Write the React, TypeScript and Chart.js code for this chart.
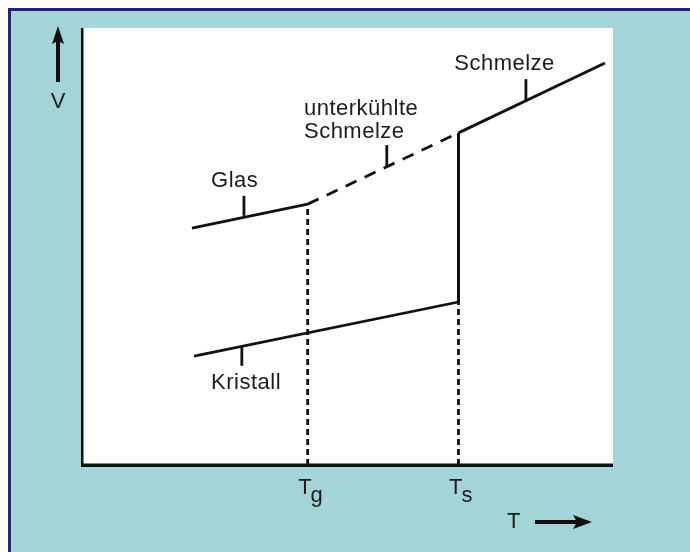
import { useEffect, useRef } from "react";
import { Chart, registerables } from "chart.js";

Chart.register(...registerables);

// ---- data (x: temperature, y: volume, arbitrary units 0..100) ----
const T_GLASS = 42.5;
const T_MELT = 70.9;

const glasLine = [
  { x: 20.7, y: 54.2 },
  { x: T_GLASS, y: 59.7 },
];
const supercooledLine = [
  { x: T_GLASS, y: 59.7 },
  { x: T_MELT, y: 76.0 },
];
const meltLine = [
  { x: T_MELT, y: 76.0 },
  { x: 98.5, y: 92.0 },
];
const crystalLine = [
  { x: 21.1, y: 24.9 },
  { x: T_MELT, y: 37.3 },
];
const meltJump = [
  { x: T_MELT, y: 37.3 },
  { x: T_MELT, y: 76.0 },
];
const tgDrop = [
  { x: T_GLASS, y: 0 },
  { x: T_GLASS, y: 59.7 },
];
const tsDrop = [
  { x: T_MELT, y: 0 },
  { x: T_MELT, y: 37.3 },
];
const glasTick = [
  { x: 30.5, y: 57.0 },
  { x: 30.5, y: 61.6 },
];
const supercooledTick = [
  { x: 57.4, y: 68.3 },
  { x: 57.4, y: 73.2 },
];
const meltTick = [
  { x: 83.6, y: 83.3 },
  { x: 83.6, y: 88.3 },
];
const crystalTick = [
  { x: 30.1, y: 22.7 },
  { x: 30.1, y: 27.2 },
];

const curveLabels = [
  { text: "Glas", x: 24.3, y: 63.6 },
  { text: "unterkühlte", x: 41.8, y: 80.1 },
  { text: "Schmelze", x: 41.8, y: 74.8 },
  { text: "Schmelze", x: 70.1, y: 90.4 },
  { text: "Kristall", x: 24.3, y: 17.4 },
];

const axisMarks = [
  { main: "T", sub: "g", x: T_GLASS },
  { main: "T", sub: "s", x: T_MELT },
];

const yAxisTitle = "V";
const xAxisTitle = "T";

const FONT = '22px "Liberation Sans", Arial, sans-serif';
const INK = "#111111";
const TEXT = "#1c1c1c";

const diagramPlugin = {
  id: "diagram",
  beforeDatasetsDraw(chart: any) {
    const { ctx, chartArea } = chart;
    ctx.save();
    ctx.fillStyle = "#ffffff";
    ctx.fillRect(
      chartArea.left,
      chartArea.top,
      chartArea.right - chartArea.left,
      chartArea.bottom - chartArea.top
    );
    ctx.restore();
  },
  afterDatasetsDraw(chart: any) {
    const { ctx, chartArea, scales } = chart;
    const xs = scales.x;
    const ys = scales.y;
    ctx.save();

    // axes
    ctx.fillStyle = INK;
    ctx.fillRect(chartArea.left - 1, chartArea.top, 2.5, chartArea.bottom - chartArea.top);
    ctx.fillRect(chartArea.left - 1, chartArea.bottom - 1.5, chartArea.right - chartArea.left + 1, 3.5);

    // text
    ctx.font = FONT;
    (ctx as any).letterSpacing = "0.5px";
    ctx.fillStyle = TEXT;
    ctx.textBaseline = "alphabetic";
    ctx.textAlign = "left";
    for (const l of curveLabels) {
      ctx.fillText(l.text, xs.getPixelForValue(l.x), ys.getPixelForValue(l.y));
    }

    // tick labels below the axis
    (ctx as any).letterSpacing = "0px";
    for (const m of axisMarks) {
      const px = xs.getPixelForValue(m.x);
      const left = px - 9.5;
      ctx.fillText(m.main, left, chartArea.bottom + 29);
      const w = ctx.measureText(m.main).width;
      ctx.fillText(m.sub, left + w - 1, chartArea.bottom + 37);
    }

    // y axis arrow + title
    const ax = chartArea.left - 24;
    ctx.fillStyle = INK;
    ctx.fillRect(ax - 2, chartArea.top + 12, 4, 42);
    ctx.beginPath();
    ctx.moveTo(ax, chartArea.top - 2);
    ctx.lineTo(ax - 6, chartArea.top + 16);
    ctx.lineTo(ax, chartArea.top + 13);
    ctx.lineTo(ax + 6, chartArea.top + 16);
    ctx.closePath();
    ctx.fill();
    ctx.fillStyle = TEXT;
    ctx.textAlign = "center";
    ctx.fillText(yAxisTitle, ax, chartArea.top + 80);

    // x axis title + arrow
    ctx.textAlign = "left";
    ctx.fillText(xAxisTitle, chartArea.right - 106, chartArea.bottom + 63);
    const ay = chartArea.bottom + 57;
    ctx.fillStyle = INK;
    ctx.fillRect(chartArea.right - 78, ay - 2, 44, 4);
    ctx.beginPath();
    ctx.moveTo(chartArea.right - 21, ay);
    ctx.lineTo(chartArea.right - 40, ay - 7);
    ctx.lineTo(chartArea.right - 36, ay);
    ctx.lineTo(chartArea.right - 40, ay + 7);
    ctx.closePath();
    ctx.fill();

    ctx.restore();
  },
};

function seg(data: { x: number; y: number }[], width: number, dash: number[] = []) {
  return {
    data,
    showLine: true,
    borderColor: INK,
    borderWidth: width,
    borderDash: dash,
    borderCapStyle: "butt" as const,
    pointRadius: 0,
    pointHoverRadius: 0,
    fill: false,
    clip: false as any,
  };
}

export default function App() {
  const canvasRef = useRef<HTMLCanvasElement | null>(null);

  useEffect(() => {
    if (!canvasRef.current) return;
    const chart = new Chart(canvasRef.current, {
      type: "scatter",
      data: {
        datasets: [
          seg(tgDrop, 2.8, [6, 4]),
          seg(tsDrop, 2.8, [6, 4]),
          seg(glasLine, 2.8),
          seg(supercooledLine, 2.8, [12, 9]),
          seg(meltLine, 2.8),
          seg(crystalLine, 2.8),
          seg(meltJump, 3),
          seg(glasTick, 2.8),
          seg(supercooledTick, 2.8),
          seg(meltTick, 2.8),
          seg(crystalTick, 2.8),
        ],
      },
      options: {
        animation: false,
        responsive: true,
        maintainAspectRatio: false,
        layout: { padding: { left: 71, top: 17, right: 77, bottom: 87 } },
        plugins: {
          legend: { display: false },
          tooltip: { enabled: false },
        },
        events: [],
        scales: {
          x: { type: "linear", min: 0, max: 100, display: false },
          y: { type: "linear", min: 0, max: 100, display: false },
        },
      },
      plugins: [diagramPlugin],
    });
    return () => chart.destroy();
  }, []);

  return (
    <div
      style={{
        position: "fixed",
        left: 8,
        top: 8,
        right: 0,
        bottom: 0,
        boxSizing: "border-box",
        borderTop: "3px solid #2a2272",
        borderLeft: "3px solid #2a2272",
        background: "#a3d4d8",
      }}
    >
      <div style={{ position: "relative", width: "100%", height: "100%" }}>
        <canvas ref={canvasRef} />
      </div>
    </div>
  );
}
